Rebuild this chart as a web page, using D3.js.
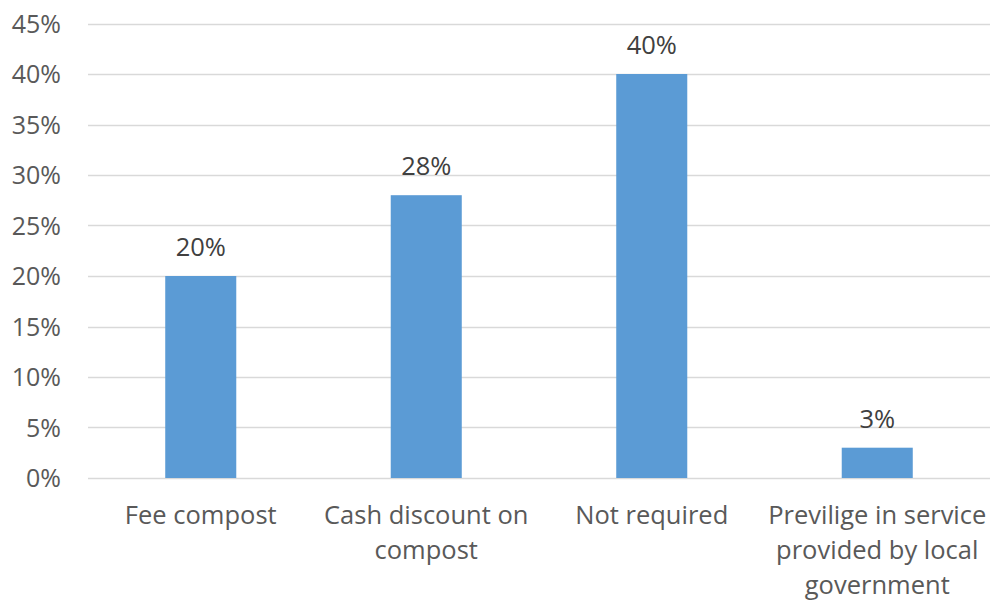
<!DOCTYPE html>
<html><head><meta charset="utf-8">
<script src="https://cdn.jsdelivr.net/npm/d3@7"></script>
<style>body{margin:0;background:#fff}svg{display:block}</style>
</head><body><svg id="c" width="992" height="600"></svg>
<script>
const categories = [["Fee compost"], ["Cash discount on", "compost"], ["Not required"], ["Previlige in service", "provided by local", "government"]];
const values = [20, 28, 40, 3];
const yTicks = [0, 5, 10, 15, 20, 25, 30, 35, 40, 45];

const svg = d3.select("#c");
const font = "'Open Sans', sans-serif";
const x = d3.scaleBand().domain(d3.range(values.length)).range([88, 990]).paddingInner(0.685).paddingOuter(0.3425);
const y = d3.scaleLinear().domain([0, 45]).range([478, 23.5]);

svg.append("g").selectAll("line").data(yTicks).join("line")
  .attr("x1", 88).attr("x2", 990)
  .attr("y1", d => Math.round(y(d)) + 0.5).attr("y2", d => Math.round(y(d)) + 0.5)
  .attr("stroke", "#d9d9d9").attr("stroke-width", 1.5);

svg.append("g").selectAll("text").data(yTicks).join("text")
  .attr("x", 61).attr("y", d => y(d)).attr("dy", "0.36em")
  .attr("text-anchor", "end").attr("font-family", font).attr("font-size", 25).attr("fill", "#595959")
  .text(d => d + "%");

svg.append("g").selectAll("rect").data(values).join("rect")
  .attr("x", (d, i) => x(i)).attr("width", x.bandwidth())
  .attr("y", d => y(d)).attr("height", d => y(0) - y(d))
  .attr("fill", "#5b9bd5");

svg.append("g").selectAll("text").data(values).join("text")
  .attr("x", (d, i) => x(i) + x.bandwidth() / 2).attr("y", d => y(d) - 20)
  .attr("text-anchor", "middle").attr("font-family", font).attr("font-size", 25.5).attr("fill", "#404040")
  .text(d => d + "%");

const lab = svg.append("g").selectAll("text").data(categories).join("text")
  .attr("x", (d, i) => x(i) + x.bandwidth() / 2).attr("y", 524)
  .attr("text-anchor", "middle").attr("font-family", font).attr("font-size", 25.5).attr("fill", "#595959");
lab.selectAll("tspan").data((d, i) => d.map(t => ({t, i}))).join("tspan")
  .attr("x", d => x(d.i) + x.bandwidth() / 2).attr("dy", (d, j) => j === 0 ? 0 : 35)
  .text(d => d.t);
</script></body></html>
